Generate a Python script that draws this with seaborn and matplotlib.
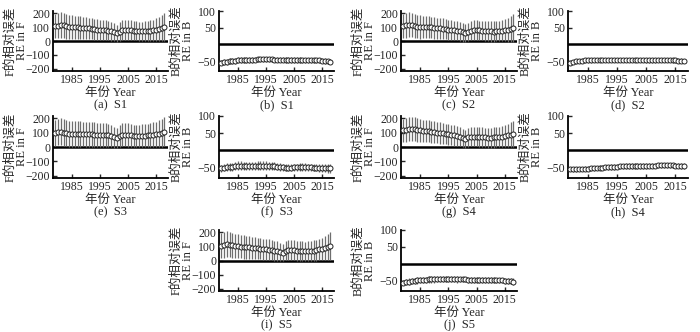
import numpy as np
import matplotlib
matplotlib.use("Agg")
import matplotlib.pyplot as plt
import seaborn as sns

# ---- data ----
years = list(range(1979, 2019))

f_mean_s1 = [105, 110, 115, 112, 105, 100, 100, 98, 97, 96, 95, 93, 90, 88, 85, 82, 80, 78, 76, 74,
             70, 63, 55, 68, 78, 80, 80, 78, 75, 72, 70, 70, 71, 73, 75, 78, 82, 86, 92, 100]
f_err_s1 = [85, 90, 92, 90, 88, 85, 85, 82, 80, 80, 80, 78, 78, 76, 75, 75, 74, 72, 72, 70,
            68, 65, 62, 66, 70, 72, 72, 70, 70, 68, 68, 68, 70, 70, 72, 75, 80, 85, 92, 98]
f_mean_s2 = [105, 112, 116, 115, 110, 103, 100, 100, 99, 98, 97, 95, 92, 90, 87, 85, 82, 78, 76, 75,
             70, 62, 58, 66, 75, 78, 78, 76, 74, 72, 70, 70, 68, 70, 72, 75, 78, 80, 85, 90]
f_err_s2 = [85, 88, 90, 88, 86, 84, 84, 82, 80, 80, 78, 78, 76, 75, 75, 74, 72, 72, 70, 70,
            68, 66, 64, 66, 70, 70, 70, 70, 70, 70, 72, 74, 74, 72, 72, 75, 80, 85, 92, 100]
f_mean_s3 = [100, 103, 105, 100, 95, 92, 90, 90, 91, 90, 90, 89, 88, 87, 86, 85, 84, 83, 81, 80,
             75, 68, 62, 78, 85, 86, 85, 82, 78, 75, 76, 78, 78, 80, 83, 85, 88, 93, 98, 105]
f_err_s3 = [90, 92, 94, 92, 90, 90, 88, 88, 88, 88, 86, 86, 85, 85, 84, 84, 83, 82, 82, 80,
            78, 72, 68, 75, 80, 82, 82, 80, 78, 78, 78, 80, 80, 82, 84, 86, 88, 92, 96, 100]
f_mean_s4 = [115, 120, 125, 126, 124, 118, 115, 112, 110, 108, 106, 104, 100, 97, 94, 90, 88, 84, 80, 76,
             70, 63, 58, 66, 70, 72, 72, 70, 68, 66, 65, 65, 66, 68, 70, 72, 76, 80, 85, 90]
f_err_s4 = [80, 82, 84, 84, 82, 80, 80, 78, 78, 76, 76, 75, 75, 74, 72, 72, 72, 70, 70, 68,
            66, 64, 62, 64, 66, 68, 68, 68, 68, 68, 70, 70, 70, 70, 72, 74, 78, 82, 86, 90]
f_mean_s5 = [105, 110, 115, 112, 108, 102, 100, 98, 96, 94, 92, 90, 88, 86, 83, 80, 80, 77, 74, 70,
             66, 60, 55, 68, 75, 74, 72, 70, 68, 66, 65, 66, 68, 70, 74, 78, 82, 88, 93, 100]
f_err_s5 = [88, 90, 92, 90, 88, 86, 85, 83, 82, 80, 80, 78, 78, 76, 75, 74, 74, 72, 70, 70,
            68, 65, 62, 66, 70, 70, 70, 70, 68, 68, 68, 70, 70, 72, 74, 76, 80, 86, 92, 98]

b_mean_s1 = [-55, -54, -52, -51, -50, -49, -48, -48, -47, -47, -46, -46, -46, -45, -45, -45, -45, -45, -45, -46,
             -46, -46, -46, -47, -47, -47, -47, -47, -47, -48, -48, -48, -48, -48, -48, -48, -49, -50, -51, -52]
b_err_s1 = [8, 9, 9, 9, 9, 9, 9, 9, 9, 9, 9, 9, 8, 8, 8, 8, 8, 8, 8, 8,
            8, 8, 8, 8, 8, 8, 8, 8, 8, 8, 8, 8, 8, 8, 8, 8, 8, 8, 8, 8]
b_mean_s2 = [-55, -53, -51, -50, -49, -48, -48, -48, -47, -47, -47, -47, -47, -47, -47, -47, -47, -47, -47, -47,
             -47, -47, -47, -47, -47, -47, -48, -48, -48, -48, -47, -47, -47, -47, -47, -48, -48, -49, -49, -50]
b_err_s2 = [6, 7, 7, 7, 7, 7, 7, 7, 7, 7, 7, 7, 7, 7, 7, 7, 7, 7, 7, 7,
            7, 7, 7, 7, 7, 7, 7, 7, 7, 7, 7, 7, 7, 7, 7, 7, 7, 7, 7, 7]
b_mean_s3 = [-52, -50, -49, -48, -47, -46, -45, -45, -45, -45, -45, -45, -45, -44, -44, -44, -44, -45, -45, -46,
             -47, -48, -49, -50, -50, -50, -49, -49, -48, -48, -48, -49, -49, -50, -50, -50, -51, -51, -52, -52]
b_err_s3 = [10, 11, 12, 12, 12, 12, 13, 13, 12, 12, 12, 12, 12, 12, 12, 12, 12, 12, 12, 12,
            11, 11, 11, 11, 11, 11, 11, 11, 11, 11, 11, 11, 11, 11, 11, 12, 12, 13, 13, 14]
b_mean_s4 = [-55, -55, -55, -54, -54, -53, -53, -52, -52, -51, -50, -50, -49, -49, -48, -48, -47, -46, -46, -45,
             -45, -45, -45, -45, -45, -45, -45, -44, -44, -44, -43, -43, -43, -43, -43, -43, -44, -44, -45, -46]
b_err_s4 = [6, 7, 7, 7, 7, 7, 7, 7, 7, 7, 8, 8, 8, 8, 8, 8, 8, 8, 8, 8,
            8, 8, 8, 8, 8, 8, 8, 8, 8, 8, 8, 8, 8, 8, 8, 8, 8, 8, 9, 9]
b_mean_s5 = [-55, -54, -52, -51, -50, -49, -48, -47, -47, -46, -46, -46, -45, -45, -45, -45, -45, -45, -45, -46,
             -46, -46, -46, -47, -47, -47, -47, -47, -48, -48, -48, -48, -48, -49, -49, -49, -50, -50, -51, -52]
b_err_s5 = [8, 8, 9, 9, 9, 9, 9, 9, 9, 9, 9, 9, 9, 9, 9, 9, 9, 9, 9, 9,
            8, 8, 8, 8, 8, 8, 8, 8, 8, 8, 8, 8, 8, 8, 8, 8, 8, 8, 9, 9]

scenarios = ["S1", "S2", "S3", "S4", "S5"]
f_means = [f_mean_s1, f_mean_s2, f_mean_s3, f_mean_s4, f_mean_s5]
f_errs = [f_err_s1, f_err_s2, f_err_s3, f_err_s4, f_err_s5]
b_means = [b_mean_s1, b_mean_s2, b_mean_s3, b_mean_s4, b_mean_s5]
b_errs = [b_err_s1, b_err_s2, b_err_s3, b_err_s4, b_err_s5]
letters = "abcdefghij"
year_ticks = [1985, 1995, 2005, 2015]

# ---- style ----
sns.set_style("ticks")
FAM = ["Liberation Serif", "Noto Sans CJK SC"]
plt.rcParams["font.family"] = FAM
plt.rcParams["axes.unicode_minus"] = True
FS = 8.5
FS_LAB = 9

fig = plt.figure(figsize=(7.0, 3.32), dpi=100)

# axes boxes in pixels: (left, right) per column, (top, bottom) per row
cols = [(53, 168), (219, 334), (401, 517), (568, 688)]
rows = [(11, 71), (116, 178), (230, 291)]
W, H = 700.0, 332.0
# (row, col) slot for each scenario's F and B panel
slots = [((0, 0), (0, 1)), ((0, 2), (0, 3)), ((1, 0), (1, 1)), ((1, 2), (1, 3)), ((2, 1), (2, 2))]


def make_ax(r, c):
    l, rr = cols[c]
    t, b = rows[r]
    return fig.add_axes([l / W, 1 - b / H, (rr - l) / W, (b - t) / H])


def draw(ax, mean, err, kind, tag, scen):
    x = np.array(years)
    m = np.array(mean, dtype=float)
    e = np.array(err, dtype=float)
    ax.axhline(0, color="black", lw=1.8, zorder=1)
    ax.vlines(x, m - e, m + e, color="#6e6e6e", lw=0.9, zorder=2)
    sns.lineplot(x=x, y=m, ax=ax, color="#222222", lw=0.8, marker="o",
                 markersize=3.6, markerfacecolor="white", markeredgecolor="#222222",
                 markeredgewidth=0.7, zorder=3)
    ax.set_xlim(1978.2, 2019.3)
    ax.set_xticks(year_ticks)
    if kind == "F":
        ax.set_ylim(-215, 215)
        ax.set_yticks([-200, -100, 0, 100, 200])
        ax.set_ylabel("F的相对误差\nRE in F", fontsize=FS_LAB, family=FAM, linespacing=1.0)
    else:
        ax.set_ylim(-80, 100)
        ax.set_yticks([-50, 50, 100])
        ax.set_ylabel("B的相对误差\nRE in B", fontsize=FS_LAB, family=FAM, linespacing=1.0)
    # right edge of the label block about 25 px left of the spine
    ax.yaxis.set_label_coords(-25.0 / ax.bbox.width, 0.5)
    ax.set_xlabel(f"年份 Year\n({tag})  {scen}", fontsize=FS_LAB, family=FAM, linespacing=1.0, labelpad=1)
    ax.tick_params(direction="in", length=3, width=1.0, labelsize=FS, pad=2)
    for lab in ax.get_xticklabels() + ax.get_yticklabels():
        lab.set_family(FAM)
    sns.despine(ax=ax)
    for s in ("left", "bottom"):
        ax.spines[s].set_linewidth(1.3)
        ax.spines[s].set_color("black")


for i, scen in enumerate(scenarios):
    (fr, fc), (br, bc) = slots[i]
    ax_f = make_ax(fr, fc)
    draw(ax_f, f_means[i], f_errs[i], "F", letters[2 * i], scen)
    ax_b = make_ax(br, bc)
    draw(ax_b, b_means[i], b_errs[i], "B", letters[2 * i + 1], scen)

fig.savefig("out.png", dpi=100, facecolor="white")
